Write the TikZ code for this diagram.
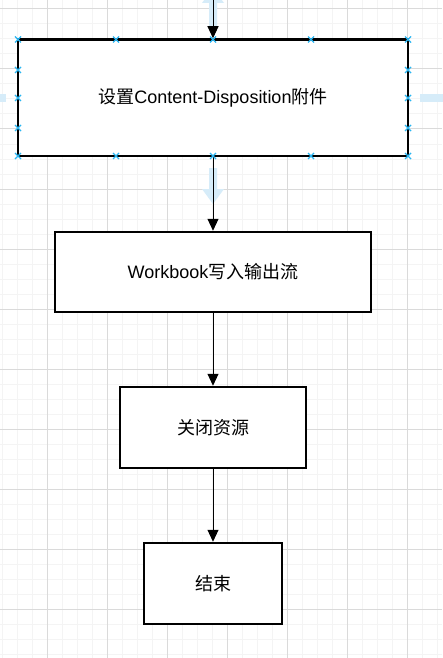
\documentclass[tikz,border=0pt]{standalone}
\usepackage{fontspec}
\setmainfont{Liberation Sans}
\newfontfamily\cjk{Noto Sans CJK SC}
\usetikzlibrary{arrows.meta}
\definecolor{gridminor}{RGB}{244,244,244}
\definecolor{gridmajor}{RGB}{218,218,218}
\definecolor{hoverblue}{RGB}{214,236,249}
\definecolor{handleblue}{RGB}{41,182,242}
\begin{document}
\begin{tikzpicture}[
        x=1pt, y=-1pt,
        every node/.style={font=\fontsize{18}{21}\selectfont},
        box/.style={draw, line width=2.5pt, fill=white, inner sep=0pt},
        flow/.style={draw, -{Triangle[width=11pt,length=12pt]}, line width=1pt},
        hover/.style={fill=hoverblue, draw=none},
        handle/.style={draw=handleblue, line width=1.4pt},
        minorline/.style={draw=gridminor, line width=1pt},
        majorline/.style={draw=gridmajor, line width=1pt},
    ]
    \useasboundingbox[fill=white] (0,0) rectangle (442,658);
    % grid
    \foreach \gx in {2,17,...,437} \draw[minorline] (\gx,0) -- (\gx,658);
    \foreach \gy in {9,24,...,654} \draw[minorline] (0,\gy) -- (442,\gy);
    \foreach \gx in {47,107,...,407} \draw[majorline] (\gx,0) -- (\gx,658);
    \foreach \gy in {9,69,...,609} \draw[majorline] (0,\gy) -- (442,\gy);
    % hover arrows
    \fill[hover] (209,27) -- (217,27) -- (217,3) -- (224,3) -- (213,-12) -- (202,3) -- (209,3) -- cycle;
    \fill[hover] (209,168) -- (217,168) -- (217,189) -- (224,189) -- (213,204) -- (202,189) -- (209,189) -- cycle;
    \fill[hover] (6,94) -- (6,102) -- (-20,102) -- (-20,94) -- cycle;
    \fill[hover] (420,94) -- (420,102) -- (446,102) -- (446,94) -- cycle;
    % boxes
    \coordinate (start) at (213,0);
    \node[box, minimum width=390pt, minimum height=116.5pt](header) at (213,97.75)
        {{\cjk 设置}Content-Disposition{\cjk 附件}};
    \node[box, minimum width=316pt, minimum height=80pt](write) at (213,272)
        {Workbook{\cjk 写入输出流}};
    \node[box, minimum width=186pt, minimum height=81pt](close) at (213,427.5)
        {\cjk 关闭资源};
    \node[box, minimum width=138pt, minimum height=81pt](end) at (213,583.5)
        {\cjk 结束};
    % connectors
    \draw[flow] (start) -- (header.north);
    \draw[flow] (header.south) -- (write.north);
    \draw[flow] (write.south) -- (close.north);
    \draw[flow] (close.south) -- (end.north);
    % selection handles
    \foreach \hx in {18,116,213,311,408}
        \foreach \hy in {39.5,156}
            \draw[handle] (\hx,\hy) ++(-3,-3) -- ++(6,6) ++(-6,0) -- ++(6,-6);
    \foreach \hx in {18,408}
        \foreach \hy in {70,98,128}
            \draw[handle] (\hx,\hy) ++(-3,-3) -- ++(6,6) ++(-6,0) -- ++(6,-6);
\end{tikzpicture}
\end{document}
